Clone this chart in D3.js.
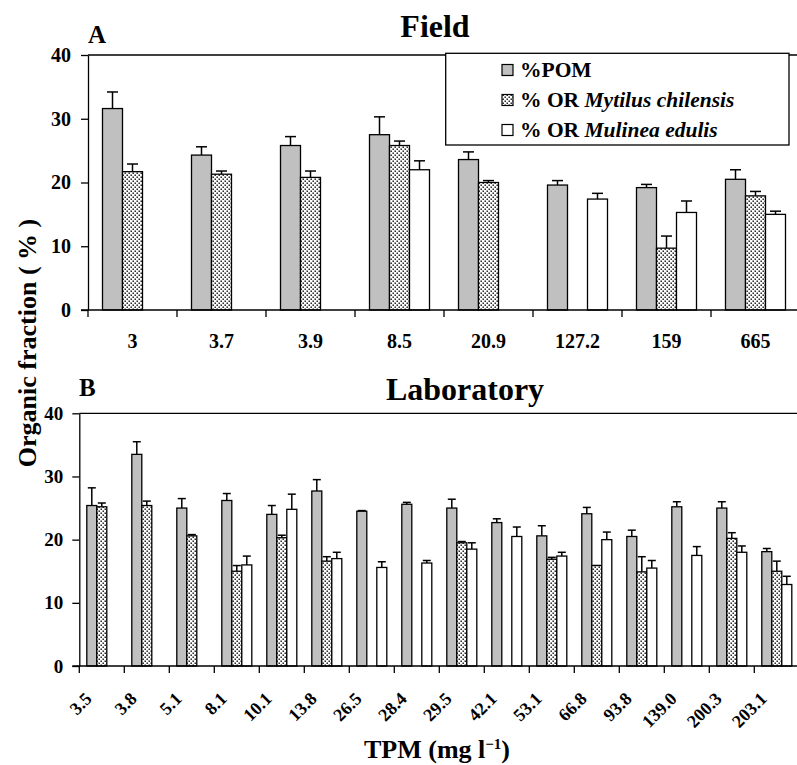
<!DOCTYPE html>
<html><head><meta charset="utf-8">
<script src="https://cdn.jsdelivr.net/npm/d3@7"></script>
<style>
html,body{margin:0;padding:0;background:#fff;}
svg{display:block;font-family:"Liberation Serif","Times New Roman",serif;font-weight:bold;}
</style></head>
<body>
<svg id="chart" width="797" height="765"></svg>
<script>
// ---------- data ----------
const series = ["POM", "Mytilus", "Mulinea"];
const legendLabels = ["%POM", "% OR ", "% OR "];
const legendItalic = ["", "Mytilus chilensis", "Mulinea edulis"];
const yTicks = [0, 10, 20, 30, 40];

const fieldCats = ["3", "3.7", "3.9", "8.5", "20.9", "127.2", "159", "665"];
const fieldPOM = [31.6, 24.3, 25.8, 27.5, 23.6, 19.6, 19.2, 20.5];
const fieldPOMErr = [2.6, 1.3, 1.4, 2.8, 1.2, 0.7, 0.5, 1.5];
const fieldMyt = [21.7, 21.3, 20.8, 25.8, 20.0, null, 9.7, 17.9];
const fieldMytErr = [1.2, 0.5, 1.0, 0.7, 0.3, null, 1.9, 0.7];
const fieldMul = [null, null, null, 22.0, null, 17.4, 15.3, 15.0];
const fieldMulErr = [null, null, null, 1.4, null, 0.9, 1.8, 0.5];

const labCats = ["3.5", "3.8", "5.1", "8.1", "10.1", "13.8", "26.5", "28.4", "29.5", "42.1", "53.1", "66.8", "93.8", "139.0", "200.3", "203.1"];
const labPOM = [25.4, 33.5, 25.0, 26.2, 24.0, 27.7, 24.5, 25.6, 25.0, 22.7, 20.6, 24.1, 20.5, 25.2, 25.0, 18.1];
const labPOMErr = [2.8, 2.0, 1.5, 1.1, 1.4, 1.8, 0.1, 0.3, 1.4, 0.6, 1.6, 1.0, 1.0, 0.8, 1.0, 0.5];
const labMyt = [25.2, 25.4, 20.6, 15.0, 20.3, 16.6, null, null, 19.5, null, 16.9, 15.9, 14.9, null, 20.2, 15.0];
const labMytErr = [0.6, 0.7, 0.2, 0.9, 0.4, 0.7, null, null, 0.2, null, 0.3, 0.0, 2.4, null, 0.9, 1.6];
const labMul = [null, null, null, 16.0, 24.8, 17.0, 15.6, 16.3, 18.5, 20.5, 17.4, 20.0, 15.5, 17.5, 18.0, 12.9];
const labMulErr = [null, null, null, 1.4, 2.4, 1.0, 0.9, 0.4, 1.0, 1.5, 0.6, 1.2, 1.2, 1.4, 1.0, 1.3];

// ---------- setup ----------
const svg = d3.select("#chart");
const defs = svg.append("defs");
const pat = defs.append("pattern").attr("id", "dots").attr("patternUnits", "userSpaceOnUse")
  .attr("width", 4).attr("height", 4);
pat.append("rect").attr("width", 4).attr("height", 4).attr("fill", "#fff");
pat.append("rect").attr("x", 0.5).attr("y", 0.5).attr("width", 1.4).attr("height", 1.4).attr("fill", "#000");
pat.append("rect").attr("x", 2.5).attr("y", 2.5).attr("width", 1.4).attr("height", 1.4).attr("fill", "#000");

const fills = {POM: "#c0c0c0", Mytilus: "url(#dots)", Mulinea: "#ffffff"};

function panel(cfg) {
  const x = d3.scaleBand().domain(cfg.cats).range([cfg.x0, cfg.x1]).padding(0);
  const sub = d3.scaleBand().domain(series).range(cfg.subRange).padding(0);
  const y = d3.scaleLinear().domain([0, 40]).range([cfg.y0, cfg.y40]);
  const g = svg.append("g");

  g.append("line").attr("x1", cfg.x0).attr("x2", 797).attr("y1", y(40)).attr("y2", y(40))
    .attr("stroke", "#000").attr("stroke-width", 1.3);

  const rows = [];
  cfg.cats.forEach((c, i) => {
    [[cfg.pom, cfg.pomErr, "POM"], [cfg.myt, cfg.mytErr, "Mytilus"], [cfg.mul, cfg.mulErr, "Mulinea"]].forEach(([v, e, s]) => {
      if (v[i] != null) rows.push({c, s, v: v[i], e: e[i]});
    });
  });

  const eb = g.selectAll(".err").data(rows).enter().append("g");
  eb.append("line")
    .attr("x1", d => x(d.c) + sub(d.s) + sub.bandwidth() / 2)
    .attr("x2", d => x(d.c) + sub(d.s) + sub.bandwidth() / 2)
    .attr("y1", d => y(d.v)).attr("y2", d => y(d.v + d.e))
    .attr("stroke", "#000").attr("stroke-width", 1.5);
  eb.append("line")
    .attr("x1", d => x(d.c) + sub(d.s) + sub.bandwidth() / 2 - cfg.cap / 2)
    .attr("x2", d => x(d.c) + sub(d.s) + sub.bandwidth() / 2 + cfg.cap / 2)
    .attr("y1", d => y(d.v + d.e)).attr("y2", d => y(d.v + d.e))
    .attr("stroke", "#000").attr("stroke-width", 1.5);

  g.selectAll(".bar").data(rows).enter().append("rect")
    .attr("x", d => x(d.c) + sub(d.s))
    .attr("width", sub.bandwidth())
    .attr("y", d => y(d.v))
    .attr("height", d => y(0) - y(d.v))
    .attr("fill", d => fills[d.s])
    .attr("stroke", "#000").attr("stroke-width", 1.3);

  const ya = g.append("g").attr("transform", `translate(${cfg.x0},0)`)
    .call(d3.axisLeft(y).tickValues(yTicks).tickSize(7).tickSizeOuter(0).tickPadding(cfg.yPad));
  ya.select(".domain").attr("stroke-width", 1.3);
  ya.selectAll(".tick line").attr("stroke-width", 1.3);
  ya.selectAll("text").attr("font-size", cfg.yFont).attr("font-family", "Liberation Serif").attr("font-weight", "bold").attr("fill", "#000");

  g.append("line").attr("x1", cfg.x0 - 7).attr("x2", 797).attr("y1", y(0)).attr("y2", y(0))
    .attr("stroke", "#000").attr("stroke-width", 1.3);
  g.selectAll(".xt").data(cfg.cats).enter().append("line")
    .attr("x1", d => x(d)).attr("x2", d => x(d))
    .attr("y1", y(0)).attr("y2", y(0) + 7)
    .attr("stroke", "#000").attr("stroke-width", 1.3);

  const lbl = g.selectAll(".xl").data(cfg.cats).enter().append("text")
    .attr("font-size", cfg.xFont).attr("fill", "#000").text(d => d);
  if (cfg.rotate) {
    lbl.attr("text-anchor", "end")
      .attr("transform", d => `translate(${x(d) + x.bandwidth() / 2 + cfg.lblDx},${cfg.lblY}) rotate(-45)`);
  } else {
    lbl.attr("text-anchor", "middle").attr("x", d => x(d) + x.bandwidth() / 2).attr("y", cfg.lblY);
  }

  g.append("text").attr("x", cfg.letterX).attr("y", cfg.letterY).attr("font-size", 25).text(cfg.letter);
  g.append("text").attr("x", cfg.titleX).attr("y", cfg.titleY).attr("text-anchor", "middle")
    .attr("font-size", 32).text(cfg.title);
  return {x, y, g};
}

const panelA = panel({
  cats: fieldCats, pom: fieldPOM, pomErr: fieldPOMErr, myt: fieldMyt, mytErr: fieldMytErr, mul: fieldMul, mulErr: fieldMulErr,
  x0: 88, x1: 800, subRange: [14.5, 74.5], y0: 310, y40: 55, cap: 11,
  yFont: 20, yPad: 10, xFont: 20, rotate: false, lblY: 348,
  letter: "A", letterX: 88, letterY: 43, title: "Field", titleX: 435, titleY: 37
});

const panelB = panel({
  cats: labCats, pom: labPOM, pomErr: labPOMErr, myt: labMyt, mytErr: labMytErr, mul: labMul, mulErr: labMulErr,
  x0: 79.3, x1: 799.3, subRange: [7.5, 37.5], y0: 666, y40: 413.3, cap: 8,
  yFont: 19, yPad: 9, xFont: 18, rotate: true, lblY: 700, lblDx: -9,
  letter: "B", letterX: 79, letterY: 396, title: "Laboratory", titleX: 465, titleY: 400
});

const lg = svg.append("g");
lg.append("rect").attr("x", 445.7).attr("y", 53.3).attr("width", 343.3).attr("height", 91.7)
  .attr("fill", "#fff").attr("stroke", "#000").attr("stroke-width", 1.3);
series.forEach((s, i) => {
  const cy = 70 + i * 30;
  lg.append("rect").attr("x", 502).attr("y", cy - 5.5).attr("width", 11).attr("height", 11)
    .attr("fill", fills[s]).attr("stroke", "#000").attr("stroke-width", 1.2);
  const t = lg.append("text").attr("x", 520).attr("y", cy + 7).attr("font-size", 21.5);
  t.append("tspan").text(legendLabels[i]);
  if (legendItalic[i]) t.append("tspan").attr("font-style", "italic").text(legendItalic[i]);
});

svg.append("text").attr("transform", "translate(36,343) rotate(-90)").attr("text-anchor", "middle")
  .attr("font-size", 26).text("Organic fraction ( % )");
const xt = svg.append("text").attr("x", 437).attr("y", 758).attr("text-anchor", "middle").attr("font-size", 26);
xt.append("tspan").text("TPM (mg l");
xt.append("tspan").attr("font-size", 15).attr("dy", -9).text("−1");
xt.append("tspan").attr("dy", 9).text(")");
</script>
</body></html>
